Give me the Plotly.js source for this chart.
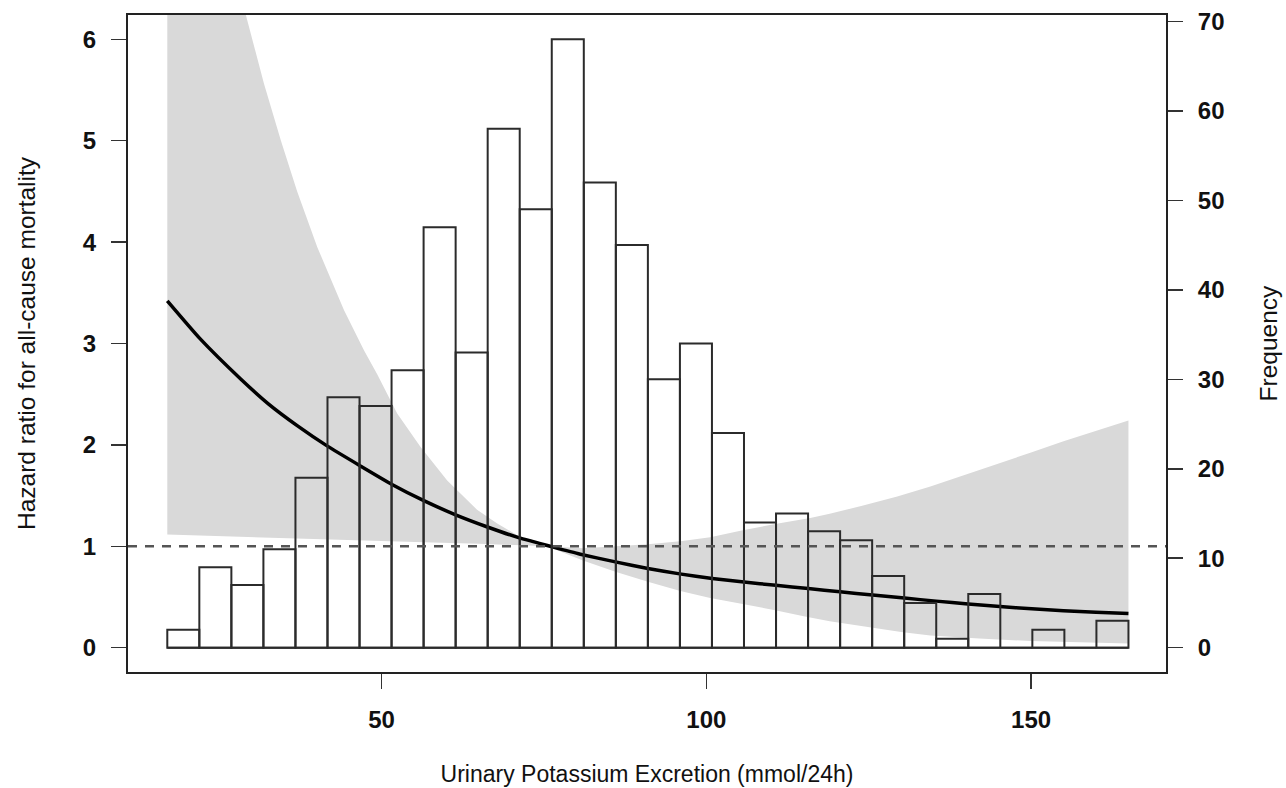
<!DOCTYPE html>
<html>
<head>
<meta charset="utf-8">
<script src="https://cdn.plot.ly/plotly-3.0.1.min.js"></script>
<style>html,body{margin:0;padding:0;background:#fff;}#chart{width:1286px;height:788px;}</style>
</head>
<body>
<div id="chart"></div>
<script>
// Histogram of urinary potassium excretion (frequency, right axis)
const binStart = 17;
const binEnd = 165;
const counts = [2, 9, 7, 11, 19, 28, 27, 31, 47, 33, 58, 49, 68, 52, 45, 30, 34, 24, 14, 15, 13, 12, 8, 5, 1, 6, 0, 2, 0, 3];

// Hazard ratio curve (left axis)
const hrX = [17, 22, 28.3, 32.65, 37, 41.6, 46.8, 51.6, 56.5, 61.4, 66.3, 71.1, 76.3, 80.6, 86, 91, 95.9, 100.9, 105.8, 110.7, 115.7, 120.6, 125.6, 130.5, 135.4, 140.3, 145.2, 150.1, 155, 160, 165];
const hrY = [3.42, 3.05, 2.65, 2.40, 2.19, 1.99, 1.79, 1.61, 1.45, 1.31, 1.19, 1.085, 0.994, 0.922, 0.846, 0.781, 0.728, 0.683, 0.647, 0.615, 0.583, 0.551, 0.519, 0.489, 0.459, 0.431, 0.406, 0.383, 0.364, 0.35, 0.338];

// 95% confidence band: upper bound (left to right), lower bound (right to left)
const upperX = [17, 22, 26, 29.1, 31.9, 34.5, 37, 40.1, 44.2, 47.3, 49.3, 52.4, 56, 60.1, 64.7, 67.8, 71.4, 75.5, 81, 86, 91, 96, 100.6, 105.8, 110.6, 116, 119, 124, 129.4, 134.5, 139.6, 145, 150, 155, 160.3, 165];
const upperY = [11, 8.8, 7.2, 6.24, 5.56, 5.0, 4.5, 3.95, 3.33, 2.93, 2.70, 2.31, 1.98, 1.65, 1.36, 1.225, 1.09, 1.0, 0.98, 1.0, 1.02, 1.05, 1.09, 1.16, 1.22, 1.28, 1.32, 1.40, 1.49, 1.59, 1.70, 1.81, 1.925, 2.035, 2.14, 2.24];
const lowerX = [165, 157, 150, 142, 134.5, 130, 125, 119, 115, 110.6, 105.6, 100.6, 96, 91, 86, 81, 75.5, 72, 65, 56.5, 45, 30, 17];
const lowerY = [0.04, 0.05, 0.065, 0.09, 0.12, 0.155, 0.2, 0.26, 0.31, 0.37, 0.43, 0.49, 0.56, 0.65, 0.75, 0.86, 1.0, 1.01, 1.025, 1.04, 1.06, 1.09, 1.115];

const refHR = 1;
const xTicks = [50, 100, 150];
const yTicks = [0, 1, 2, 3, 4, 5, 6];
const y2Ticks = [0, 10, 20, 30, 40, 50, 60, 70];

const xTitle = 'Urinary Potassium Excretion (mmol/24h)';
const yTitle = 'Hazard ratio for all-cause mortality';
const y2Title = 'Frequency';

const binW = (binEnd - binStart) / counts.length;
const binCenters = counts.map((_, i) => binStart + binW * (i + 0.5));

const FONT = 'Liberation Sans, Arial, Helvetica, sans-serif';
const tickFont = {family: FONT, size: 24, color: '#111', weight: 'bold'};

const traces = [
  {
    type: 'scatter', mode: 'lines',
    x: upperX.concat(lowerX), y: upperY.concat(lowerY),
    fill: 'toself', fillcolor: '#d9d9d9',
    line: {width: 0, color: 'rgba(0,0,0,0)'},
    hoverinfo: 'skip', showlegend: false
  },
  {
    type: 'scatter', mode: 'lines',
    x: hrX, y: hrY,
    line: {color: '#000', width: 3.5, shape: 'spline', smoothing: 0.5},
    showlegend: false
  },
  {
    type: 'bar', x: binCenters, y: counts, width: binW, yaxis: 'y2',
    marker: {color: 'rgba(0,0,0,0)', line: {color: '#2b2b2b', width: 2}},
    showlegend: false
  }
];

const layout = {
  width: 1286, height: 788,
  margin: {l: 128, r: 120, t: 15, b: 116},
  paper_bgcolor: '#fff', plot_bgcolor: '#fff',
  bargap: 0,
  showlegend: false,
  xaxis: {
    range: [10.95, 170.78],
    tickvals: xTicks, ticks: 'outside', ticklen: 15, tickwidth: 1.5, tickcolor: '#333',
    showline: true, linecolor: '#222', linewidth: 2, mirror: true,
    showgrid: false, zeroline: false,
    tickfont: tickFont, ticklabelstandoff: 10,
    title: {text: xTitle, font: {family: FONT, size: 23, color: '#111'}, standoff: 34}
  },
  yaxis: {
    range: [-0.24, 6.24],
    tickvals: yTicks, ticks: 'outside', ticklen: 15, tickwidth: 1.5, tickcolor: '#333',
    showline: true, linecolor: '#222', linewidth: 2,
    showgrid: false, zeroline: false,
    tickfont: tickFont, ticklabelstandoff: 10,
    title: {text: yTitle, font: {family: FONT, size: 24.5, color: '#111'}, standoff: 40}
  },
  yaxis2: {
    overlaying: 'y', side: 'right',
    range: [-2.72, 70.72],
    tickvals: y2Ticks, ticks: 'outside', ticklen: 15, tickwidth: 1.5, tickcolor: '#333',
    showline: true, linecolor: '#222', linewidth: 2,
    showgrid: false, zeroline: false,
    tickfont: tickFont, ticklabelstandoff: 10,
    title: {text: y2Title, font: {family: FONT, size: 24.5, color: '#111'}, standoff: 36}
  },
  shapes: [
    {type: 'line', xref: 'x', yref: 'y2', x0: binStart, x1: binEnd, y0: 0, y1: 0,
     line: {color: '#2b2b2b', width: 2}, layer: 'above'},
    {type: 'line', xref: 'paper', yref: 'y', x0: 0, x1: 1, y0: refHR, y1: refHR,
     line: {color: '#555', width: 2.5, dash: '9px,8px'}, layer: 'above'}
  ]
};

Plotly.newPlot('chart', traces, layout, {staticPlot: true, displayModeBar: false});
</script>
</body>
</html>
